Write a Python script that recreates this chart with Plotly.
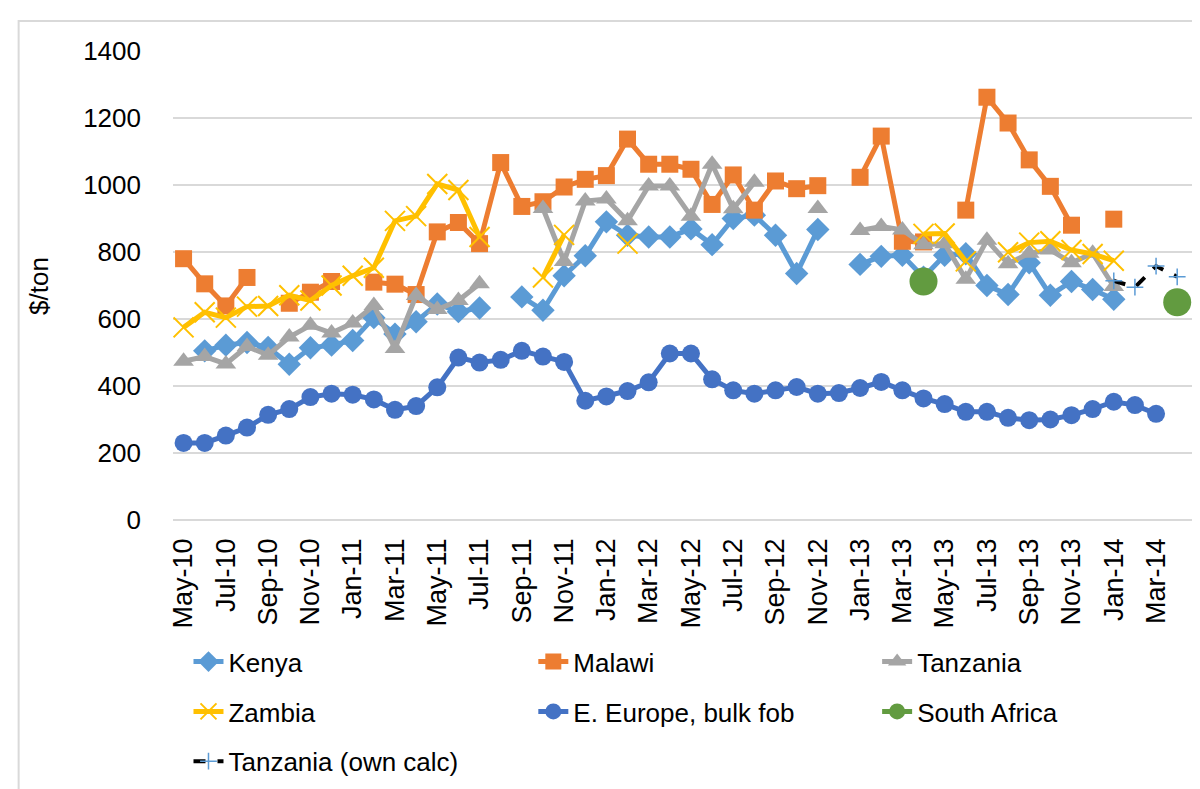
import plotly.graph_objects as go
import pandas as pd

# Meses de May-10 a Apr-14
meses = list(pd.date_range("2010-05-01", "2014-04-01", freq="MS").strftime("%b-%y"))

N = None
kenya = [N, 505, 522, 530, 515, 465, 514, 522, 536, 604, 555, 592, 645, 622, 633, N,
         666, 626, 729, 789, 890, 850, 845, 845, 869, 822, 900, 910, 850, 736, 867, N,
         763, 787, 790, 725, 790, 795, 700, 673, 768, 671, 712, 688, 659, N, N, N]
malawi = [780, 705, 639, 724, N, 647, 680, 712, N, 710, 704, 673, 860, 888, 825, 1067,
          936, 950, 994, 1017, 1028, 1137, 1062, 1062, 1047, 942, 1030, 925, 1012, 989, 998, N,
          1023, 1146, 832, 830, N, 925, 1262, 1185, 1075, 996, 880, N, 898, N, N, N]
tanzania = [474, 488, 466, 518, 492, 546, 581, 558, 588, 640, 512, 670, 628, 655, 705, N,
            N, 930, 772, 952, 958, 893, 997, 997, 907, 1062, 929, 1008, N, N, 930, N,
            864, 876, 866, 822, 825, 719, 835, 765, 796, 806, 768, 796, 697, N, N, N]
zambia = [575, 620, 604, 637, 639, 671, 655, 700, 729, 753, 893, 907, 1003, 985, 845, N,
          N, 724, 851, N, N, 825, N, N, N, N, N, N, N, N, N, N,
          N, N, N, 854, 855, 772, N, 799, 828, 832, 806, 794, 774, N, N, N]
e_europe = [230, 230, 252, 276, 314, 331, 367, 377, 374, 360, 329, 340, 396, 485, 470, 478,
            505, 488, 472, 356, 369, 385, 411, 497, 497, 420, 387, 377, 387, 397, 377, 379,
            394, 412, 387, 363, 346, 323, 323, 305, 298, 300, 313, 331, 353, 343, 317, N]
south_africa = [N] * 35 + [712] + [N] * 11 + [650]
tanzania_calc = [N] * 44 + [714, 695, 758, 726]

FUENTE = "Arial, Liberation Sans, sans-serif"
TAM = 26

# (nombre, valores, color, marcador, leyenda/columna)
series = [
    ("Kenya", kenya, "#5B9BD5", dict(symbol="diamond", size=18), "legend"),
    ("Malawi", malawi, "#ED7D31", dict(symbol="square", size=17), "legend2"),
    ("Tanzania", tanzania, "#A5A5A5", dict(symbol="triangle-up", size=18), "legend3"),
    ("Zambia", zambia, "#FFC000", dict(symbol="x-thin", size=20,
                                       line=dict(width=2, color="#FFC000")), "legend"),
    ("E. Europe, bulk fob", e_europe, "#4472C4", dict(symbol="circle", size=18), "legend2"),
    ("South Africa", south_africa, "#629B40", dict(symbol="circle", size=28), "legend3"),
]

fig = go.Figure()

for nombre, valores, color, marcador, ley in series:
    fig.add_trace(go.Scatter(
        x=meses, y=valores, name=nombre, mode="lines+markers",
        line=dict(color=color, width=5),
        marker=dict(color=color, **marcador),
        legend=ley, legendgroup=nombre,
    ))

fig.add_trace(go.Scatter(
    x=meses, y=tanzania_calc, name="Tanzania (own calc)", mode="lines+markers",
    line=dict(color="black", width=4, dash="dash"),
    marker=dict(symbol="cross-thin", size=12, color="#5B9BD5",
                line=dict(width=1.5, color="#5B9BD5")),
    legend="legend", legendgroup="calc",
))

# Marco exterior del gráfico
fig.add_shape(type="rect", xref="paper", yref="paper",
              x0=-0.1515, x1=1.2, y0=-1, y1=1.064,
              line=dict(color="#D9D9D9", width=2), layer="below")

fig.add_annotation(text="$/ton", xref="paper", yref="paper", x=-0.132, y=0.5,
                   xanchor="center", yanchor="middle",
                   textangle=-90, showarrow=False, font=dict(size=TAM, color="black"))

leyenda = dict(orientation="v", y=-0.252, xanchor="left", yanchor="top",
               tracegroupgap=13, font=dict(size=TAM, color="black"),
               bgcolor="rgba(0,0,0,0)")

fig.update_layout(
    width=1200, height=789,
    margin=dict(l=165, r=16, t=43, b=262),
    paper_bgcolor="white", plot_bgcolor="white",
    font=dict(family=FUENTE, size=TAM, color="black"),
    xaxis=dict(
        type="category", range=[-0.5, 47.7],
        tickmode="array", tickvals=meses[::2], ticktext=meses[::2],
        tickangle=-90, ticks="", showgrid=False, showline=False,
        ticklabelstandoff=12, tickfont=dict(size=27),
    ),
    yaxis=dict(
        range=[0, 1400], dtick=200, ticks="",
        showgrid=True, gridcolor="#D9D9D9", gridwidth=2,
        zeroline=True, zerolinecolor="#D9D9D9", zerolinewidth=2,
        showline=False, ticklabelstandoff=31,
    ),
    legend=dict(x=0.0152, **leyenda),
    legend2=dict(x=0.3536, **leyenda),
    legend3=dict(x=0.691, **leyenda),
)

fig.write_html("out.html")
